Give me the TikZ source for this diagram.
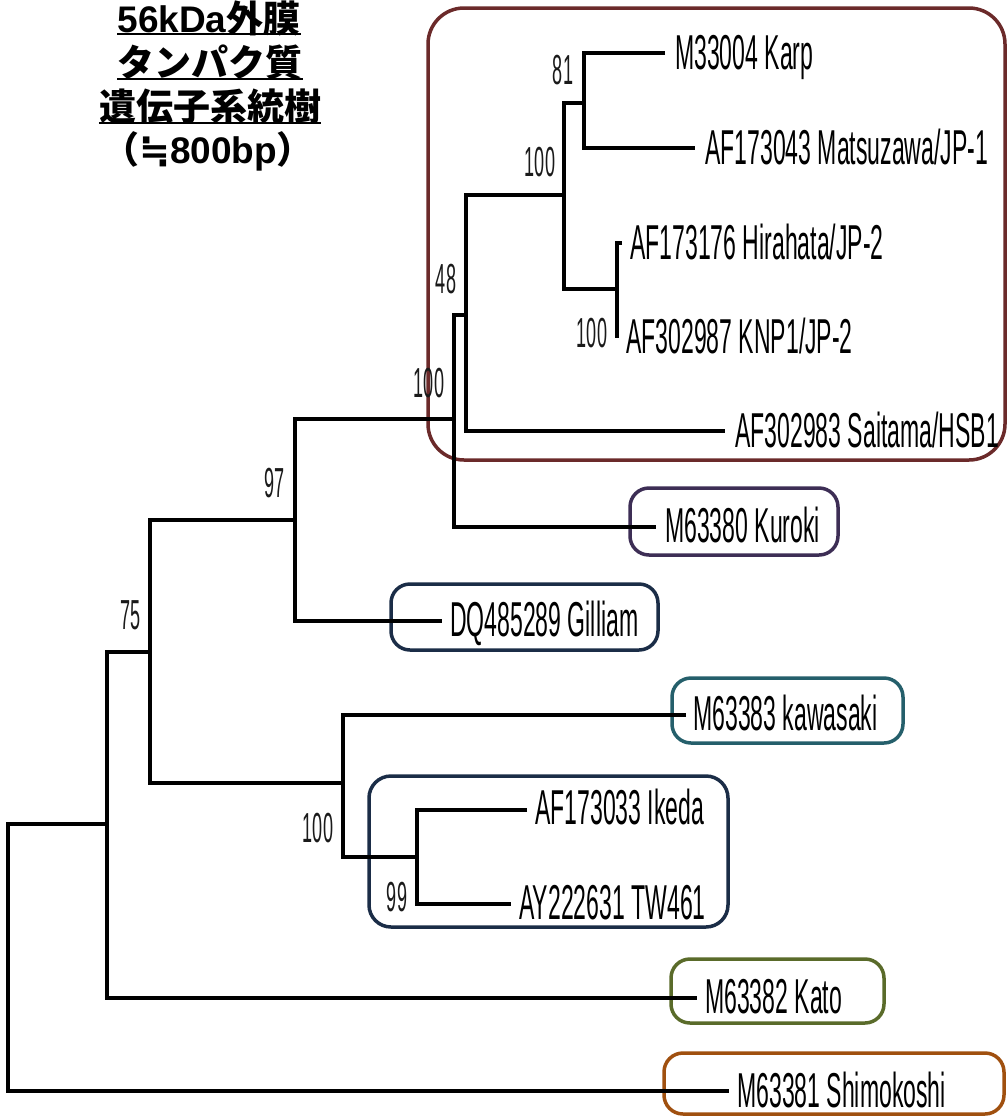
\documentclass[tikz,border=0pt]{standalone}
\usepackage{fontspec}
\newfontfamily\leaffont[FakeStretch=0.47]{Liberation Sans}
\newfontfamily\bsfont[FakeStretch=0.43]{Liberation Sans}
\newfontfamily\jpfont{Noto Sans CJK JP}
\newfontfamily\latfont{Liberation Sans}
\newfontfamily\symfont{DejaVu Sans}
\definecolor{cMaroon}{HTML}{6B2A2A}
\definecolor{cPurple}{HTML}{3D2E55}
\definecolor{cNavy}{HTML}{1B2D47}
\definecolor{cTeal}{HTML}{255F6B}
\definecolor{cOlive}{HTML}{5A6B2A}
\definecolor{cOrange}{HTML}{A0500F}
\definecolor{bscol}{HTML}{1A1A1A}
\begin{document}
\begin{tikzpicture}[x=1pt,y=-1pt,
  leaf/.style={anchor=base west, inner sep=0pt, font=\leaffont\fontsize{49}{58}\selectfont},
  boot/.style={anchor=center, inner sep=0pt, text=bscol, font=\bsfont\fontsize{42}{50}\selectfont},
  branch/.style={line width=3.2pt, black},
  clade/.style={line width=3.5pt, rounded corners=19pt},
  ttl/.style={anchor=base, inner sep=0pt, font=\jpfont\bfseries\fontsize{37}{44}\selectfont},
  uline/.style={line width=2.5pt, black}]
\fill[white] (0,0) rectangle (1008,1117);
\useasboundingbox (0,0) rectangle (1008,1117);

% title
\node[ttl] (t1) at (209,32) {{\latfont\bfseries 56kDa}外膜};
\node[ttl] (t2) at (210,76) {タンパク質};
\node[ttl] (t3) at (210,120) {遺伝子系統樹};
\node[ttl] (t4) at (208,163) {（{\symfont\bfseries ≒}{\latfont\bfseries 800bp}）};
\draw[uline] ([yshift=-2pt]t1.base west) -- ([yshift=-2pt]t1.base east);
\draw[uline] ([yshift=-3pt]t2.base west) -- ([yshift=-3pt]t2.base east);
\draw[uline] ([yshift=-3pt]t3.base west) -- ([yshift=-3pt]t3.base east);

% clade boxes
\draw[clade, cMaroon, rounded corners=36pt] (428,8) rectangle (1005,460);
\draw[clade, cPurple] (630,488) rectangle (838,555);
\draw[clade, cNavy] (391,584) rectangle (658,650);
\draw[clade, cTeal] (672,678) rectangle (903,743);
\draw[clade, cNavy, rounded corners=22pt] (369,776) rectangle (728,927);
\draw[clade, cOlive] (671,959) rectangle (884,1023);
\draw[clade, cOrange] (664,1053) rectangle (1004,1114);

% internal nodes (x, attachment y)
\coordinate (A) at (107,824);
\coordinate (B) at (150,652);
\coordinate (C) at (295,520);
\coordinate (D) at (454,419);
\coordinate (E) at (466,315);
\coordinate (F) at (564,195);
\coordinate (G) at (584,103);
\coordinate (H) at (617,289);
\coordinate (I) at (343,783);
\coordinate (J) at (417,857);

% leaf tips
\coordinate (lKarp) at (665,53);
\coordinate (lMats) at (695,148);
\coordinate (lHira) at (622,243);
\coordinate (lKnp) at (617,338);
\coordinate (lSait) at (725,431);
\coordinate (lKuro) at (656,527);
\coordinate (lGill) at (442,621);
\coordinate (lKawa) at (686,715);
\coordinate (lIked) at (527,810);
\coordinate (lTw) at (511,904);
\coordinate (lKato) at (697,998);
\coordinate (lShim) at (729,1091);
\coordinate (root) at (8,958);

% branches
\draw[branch] (A) -| (root) |- (lShim);
\draw[branch] (B) -| (A) |- (lKato);
\draw[branch] (C) -| (B) |- (I);
\draw[branch] (D) -| (C) |- (lGill);
\draw[branch] (E) -| (D) |- (lKuro);
\draw[branch] (F) -| (E) |- (lSait);
\draw[branch] (G) -| (F) |- (H);
\draw[branch] (lKarp) -| (G) |- (lMats);
\draw[branch] (lHira) -| (H) |- (lKnp);
\draw[branch] (lKawa) -| (I) |- (J);
\draw[branch] (lIked) -| (J) |- (lTw);

% leaf labels
\node[leaf] (nKarp) at (675,69) {M33004 Karp};
\node[leaf] (nMats) at (705,164) {AF173043 Matsuzawa/JP-1};
\node[leaf] (nHira) at (630,259) {AF173176 Hirahata/JP-2};
\node[leaf] (nKnp) at (626,353) {AF302987 KNP1/JP-2};
\node[leaf] (nSait) at (735,447) {AF302983 Saitama/HSB1};
\node[leaf] (nKuro) at (665,542) {M63380 Kuroki};
\node[leaf] (nGill) at (450,636) {DQ485289 Gilliam};
\node[leaf] (nKawa) at (693,730) {M63383 kawasaki};
\node[leaf] (nIked) at (535,824) {AF173033 Ikeda};
\node[leaf] (nTw) at (519,919) {AY222631 TW461};
\node[leaf] (nKato) at (705,1013) {M63382 Kato};
\node[leaf] (nShim) at (737,1107) {M63381 Shimokoshi};

% bootstrap values
\node[boot] (b81) at (563,70) {81};
\node[boot] (b100a) at (540,162) {100};
\node[boot] (b48) at (446,279) {48};
\node[boot] (b100b) at (592,333) {100};
\node[boot] (b100c) at (429,383) {100};
\node[boot] (b97) at (275,483) {97};
\node[boot] (b75) at (131,615) {75};
\node[boot] (b100d) at (318,828) {100};
\node[boot] (b99) at (397,897) {99};
\end{tikzpicture}
\end{document}
